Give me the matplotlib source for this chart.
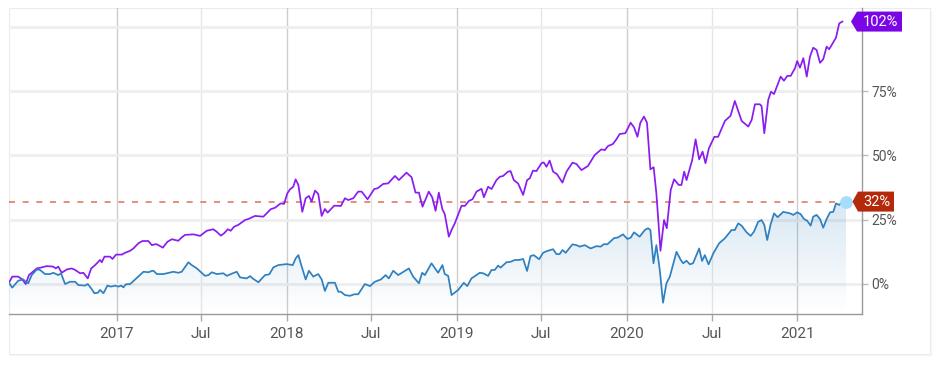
import matplotlib
matplotlib.use("Agg")
import matplotlib.pyplot as plt
import matplotlib.dates as mdates
import matplotlib.ticker as mticker
import numpy as np
from datetime import datetime, timedelta
from matplotlib.patches import Polygon, Rectangle, PathPatch
from matplotlib.transforms import IdentityTransform
from matplotlib.colors import to_rgb

plt.rcParams['font.family'] = ['Roboto', 'DejaVu Sans']

# ---------------- data (dates as decimal years, values in %) ----------------
purple_t = [
    2016.368, 2016.387, 2016.422, 2016.446, 2016.466, 2016.485, 2016.531, 2016.560, 2016.589, 2016.628,
    2016.642, 2016.657, 2016.677, 2016.707, 2016.736, 2016.756, 2016.785, 2016.804, 2016.830, 2016.850,
    2016.873, 2016.902, 2016.912, 2016.928, 2016.961, 2016.975, 2016.996,
    2017.030, 2017.049, 2017.079, 2017.098, 2017.127, 2017.151, 2017.186, 2017.206, 2017.231, 2017.245,
    2017.271, 2017.298, 2017.324, 2017.362, 2017.382, 2017.402, 2017.451, 2017.490, 2017.529, 2017.568,
    2017.588, 2017.612, 2017.631, 2017.653, 2017.670, 2017.690, 2017.715, 2017.754, 2017.774, 2017.813,
    2017.862, 2017.905, 2017.931, 2017.964, 2017.984,
    2018.003, 2018.019, 2018.038, 2018.052, 2018.068, 2018.091, 2018.111, 2018.130, 2018.146, 2018.166,
    2018.185, 2018.205, 2018.224, 2018.240, 2018.279, 2018.318, 2018.342, 2018.361, 2018.391, 2018.420,
    2018.440, 2018.475, 2018.514, 2018.534, 2018.567, 2018.596, 2018.636, 2018.659, 2018.704, 2018.734,
    2018.757, 2018.777, 2018.798, 2018.835, 2018.855, 2018.875, 2018.894, 2018.915, 2018.929, 2018.953,
    2018.969, 2018.988,
    2019.028, 2019.047, 2019.072, 2019.092, 2019.116, 2019.145, 2019.159, 2019.184, 2019.204, 2019.233,
    2019.253, 2019.272, 2019.301, 2019.316, 2019.335, 2019.360, 2019.390, 2019.413, 2019.429, 2019.448,
    2019.468, 2019.498, 2019.511, 2019.527, 2019.546, 2019.566, 2019.589, 2019.621, 2019.645, 2019.680,
    2019.703, 2019.733, 2019.771, 2019.811, 2019.850, 2019.870, 2019.889, 2019.918, 2019.938, 2019.958,
    2019.991,
    2020.022, 2020.042, 2020.062, 2020.079, 2020.100, 2020.118, 2020.138, 2020.157, 2020.173, 2020.197,
    2020.218, 2020.234, 2020.257, 2020.277, 2020.304, 2020.320, 2020.336, 2020.350, 2020.383, 2020.403,
    2020.424, 2020.444, 2020.461, 2020.481, 2020.513, 2020.535, 2020.575, 2020.608, 2020.633, 2020.673,
    2020.712, 2020.732, 2020.751, 2020.780, 2020.790, 2020.806, 2020.829, 2020.845, 2020.863, 2020.902,
    2020.921, 2020.941, 2020.961, 2020.986, 2020.999,
    2021.015, 2021.035, 2021.055, 2021.074, 2021.093, 2021.113, 2021.133, 2021.152, 2021.172, 2021.187,
    2021.227, 2021.246, 2021.265,
]
purple_v = [
    0.3, 2.7, 2.7, 1.6, -0.2, 3.3, 5.9, 6.3, 6.8, 6.6,
    5.9, 6.6, 4.2, 5.5, 5.9, 5.3, 4.0, 4.2, 2.0, 5.9,
    7.2, 9.2, 8.3, 10.5, 10.5, 9.6, 11.3,
    11.3, 12.0, 12.8, 13.7, 15.7, 16.6, 16.6, 15.0, 15.4, 15.0,
    14.0, 16.3, 17.3, 16.7, 18.0, 19.0, 19.2, 18.6, 20.6, 21.2,
    20.2, 18.7, 19.6, 21.2, 20.6, 22.2, 22.9, 24.8, 25.2, 26.4,
    26.1, 29.0, 29.6, 31.3, 31.1,
    35.2, 36.8, 37.8, 40.7, 38.5, 28.0, 33.3, 34.2, 32.0, 36.3,
    35.0, 26.4, 29.1, 27.7, 30.4, 30.3, 33.3, 32.6, 33.3, 35.9,
    35.9, 32.9, 36.9, 37.2, 38.9, 39.1, 42.0, 40.4, 43.3, 41.5,
    35.5, 35.5, 30.0, 35.9, 33.7, 28.4, 35.5, 29.0, 27.1, 18.3,
    20.9, 23.5,
    30.4, 30.3, 32.3, 32.9, 35.9, 37.0, 33.7, 37.8, 36.9, 40.4,
    41.7, 42.0, 43.7, 43.9, 40.4, 39.1, 34.6, 40.4, 41.1, 44.1,
    43.9, 47.0, 47.3, 45.6, 48.0, 43.7, 42.7, 39.4, 43.7, 47.2,
    46.7, 44.3, 45.9, 50.2, 52.4, 52.1, 53.7, 54.5, 56.3, 58.4,
    58.7,
    62.8, 61.0, 57.3, 62.8, 65.2, 62.8, 44.6, 45.4, 35.2, 12.8,
    24.8, 21.6, 36.5, 40.7, 38.5, 38.5, 43.7, 40.4, 48.2, 56.3,
    48.5, 51.5, 47.0, 52.8, 57.3, 57.3, 63.5, 65.5, 71.3, 63.5,
    61.3, 63.9, 70.0, 70.0, 69.3, 58.7, 71.7, 74.9, 74.0, 80.8,
    79.2, 81.1, 81.1, 84.1, 86.9,
    84.3, 88.0, 80.8, 88.6, 92.1, 91.2, 86.2, 87.6, 92.5, 91.5,
    96.0, 101.6, 102.3,
]

blue_t = [
    2016.368, 2016.387, 2016.422, 2016.452, 2016.466, 2016.481, 2016.501, 2016.531, 2016.550, 2016.579,
    2016.609, 2016.628, 2016.657, 2016.673, 2016.697, 2016.726, 2016.756, 2016.775, 2016.814, 2016.830,
    2016.850, 2016.869, 2016.889, 2016.902, 2016.922, 2016.945, 2016.967, 2016.991,
    2017.010, 2017.026, 2017.039, 2017.053, 2017.079, 2017.108, 2017.157, 2017.186, 2017.206, 2017.216,
    2017.236, 2017.274, 2017.333, 2017.362, 2017.382, 2017.421, 2017.441, 2017.471, 2017.519, 2017.539,
    2017.559, 2017.588, 2017.627, 2017.647, 2017.682, 2017.706, 2017.725, 2017.764, 2017.784, 2017.803,
    2017.833, 2017.872, 2017.897, 2017.921, 2017.950, 2017.999,
    2018.035, 2018.052, 2018.068, 2018.091, 2018.111, 2018.130, 2018.156, 2018.185, 2018.205, 2018.224,
    2018.244, 2018.283, 2018.303, 2018.318, 2018.342, 2018.371, 2018.397, 2018.420, 2018.459, 2018.489,
    2018.518, 2018.554, 2018.581, 2018.600, 2018.626, 2018.655, 2018.718, 2018.743, 2018.777, 2018.796,
    2018.812, 2018.851, 2018.890, 2018.915, 2018.929, 2018.949, 2018.969,
    2019.008, 2019.041, 2019.061, 2019.086, 2019.135, 2019.155, 2019.184, 2019.204, 2019.223, 2019.243,
    2019.257, 2019.292, 2019.316, 2019.341, 2019.366, 2019.390, 2019.413, 2019.433, 2019.452, 2019.484,
    2019.507, 2019.531, 2019.566, 2019.586, 2019.605, 2019.621, 2019.640, 2019.680, 2019.703, 2019.723,
    2019.752, 2019.787, 2019.821, 2019.846, 2019.865, 2019.885, 2019.924, 2019.948, 2019.977,
    2020.003, 2020.022, 2020.042, 2020.075, 2020.105, 2020.124, 2020.138, 2020.156, 2020.173, 2020.193,
    2020.212, 2020.232, 2020.252, 2020.291, 2020.316, 2020.330, 2020.350, 2020.369, 2020.388, 2020.424,
    2020.441, 2020.457, 2020.479, 2020.510, 2020.541, 2020.575, 2020.614, 2020.633, 2020.653, 2020.673,
    2020.702, 2020.726, 2020.745, 2020.770, 2020.790, 2020.806, 2020.823, 2020.843, 2020.863, 2020.884,
    2020.917, 2020.957, 2020.976, 2020.999,
    2021.019, 2021.039, 2021.058, 2021.078, 2021.093, 2021.113, 2021.133, 2021.152, 2021.172, 2021.192,
    2021.211, 2021.227, 2021.246, 2021.266, 2021.286,
]
blue_v = [
    0.3, -1.6, 1.1, 1.6, 0.7, 0.1, 3.3, 5.5, 5.3, 3.7,
    3.7, 4.2, 3.3, 4.0, -0.2, 0.7, 0.7, -0.6, -0.8, -0.2,
    -1.9, -3.8, -3.6, -2.5, -3.8, -0.8, -1.2, -0.8,
    -1.2, -0.8, -1.5, -0.3, -0.2, 1.6, 4.6, 4.4, 4.9, 5.0,
    3.7, 3.7, 4.6, 4.2, 4.6, 8.3, 7.2, 5.9, 3.0, 3.3,
    4.4, 3.7, 4.0, 3.0, 4.0, 4.6, 2.4, 2.0, 2.9, 1.8,
    0.5, 3.3, 3.6, 6.3, 7.2, 7.6,
    7.2, 9.8, 11.1, 5.9, 1.6, 5.0, 2.7, 3.7, 1.6, -2.9,
    0.3, 0.3, -3.2, -3.2, -4.5, -4.8, -4.2, -4.2, -0.2, -1.0,
    0.7, 1.6, 3.3, 2.0, 5.0, 3.3, 5.9, 2.7, 0.1, 4.2,
    3.3, 7.9, 4.2, 7.2, 3.7, 3.0, -4.5,
    -2.5, 0.3, -1.0, 2.0, 4.2, 4.0, 3.0, 5.3, 5.3, 7.0,
    6.2, 8.3, 8.5, 9.2, 9.2, 9.6, 4.9, 10.7, 11.1, 9.5,
    12.0, 12.7, 13.4, 11.5, 11.5, 13.1, 12.0, 15.3, 15.0, 14.4,
    15.0, 13.7, 14.6, 14.4, 15.4, 15.3, 17.7, 18.0, 19.2,
    17.4, 17.9, 20.0, 18.3, 20.9, 21.6, 20.9, 7.9, 15.0, 5.3,
    -7.5, 0.1, 2.7, 12.4, 9.2, 7.9, 8.9, 7.5, 7.9, 13.7,
    8.8, 11.1, 7.5, 12.2, 15.7, 17.7, 20.9, 20.9, 23.5, 22.6,
    20.0, 18.6, 20.2, 24.1, 24.8, 22.9, 17.0, 23.1, 27.4, 25.9,
    28.0, 27.4, 26.8, 27.8,
    27.1, 25.2, 24.5, 22.6, 26.1, 26.8, 25.2, 21.8, 25.2, 27.8,
    28.0, 31.3, 30.7, 32.0, 32.0,
]

ref_level = 32.0
purple_label = "102%"
blue_label = "32%"
y_ticks = [0, 25, 50, 75, 100]
y_tick_labels = ["0%", "25%", "50%", "75%", ""]
year_ticks = [2017, 2018, 2019, 2020, 2021]
mid_year_ticks = [2017, 2018, 2019, 2020]   # July of these years, labelled "Jul"
x_range = (2016.368, 2021.380)
y_range = (-11.9, 107.6)

assert len(purple_t) == len(purple_v)
assert len(blue_t) == len(blue_v)


def to_date(t):
    y = int(np.floor(t))
    start = datetime(y, 1, 1)
    days = (datetime(y + 1, 1, 1) - start).days
    return start + timedelta(days=(t - y) * days)


p_dates = [to_date(t) for t in purple_t]
b_dates = [to_date(t) for t in blue_t]

# ---------------- figure ----------------
W, H = 936, 366
fig = plt.figure(figsize=(W / 100, H / 100), dpi=100)
fig.patch.set_facecolor('white')

# card with a very soft shadow (pixel coordinates, origin bottom-left)
cx0, cx1 = 9, 930
cy0, cy1 = H - 354, H - 8
for off, a in [(3, 0.012), (2, 0.018), (1, 0.025)]:
    sh = Rectangle((cx0 + 1, cy0 - off), (cx1 - cx0) + off - 1, (cy1 - cy0),
                   facecolor='black', edgecolor='none', alpha=a,
                   transform=IdentityTransform(), zorder=-3)
    fig.add_artist(sh)
card = Rectangle((cx0, cy0), cx1 - cx0, cy1 - cy0, facecolor='white', edgecolor='#ececec',
                 lw=0.8, transform=IdentityTransform(), zorder=-2)
fig.add_artist(card)

ax = fig.add_axes([9 / W, 1 - 314 / H, 853 / W, 306 / H])
ax.set_facecolor('none')

xmin, xmax = to_date(x_range[0]), to_date(x_range[1])

# gradient fill under blue series
fill = ax.fill_between(b_dates, blue_v, y_range[0], facecolor='none', edgecolor='none')
clip = PathPatch(fill.get_paths()[0], transform=ax.transData, facecolor='none', edgecolor='none')
ax.add_patch(clip)
rgb = to_rgb('#3182bd')
grad = np.zeros((256, 1, 4))
grad[..., 0], grad[..., 1], grad[..., 2] = rgb
grad[:, 0, 3] = np.linspace(0.0, 0.19, 256)
im = ax.imshow(grad, extent=[mdates.date2num(xmin), mdates.date2num(xmax), y_range[0], max(blue_v)],
               origin='lower', aspect='auto', zorder=1, interpolation='bilinear')
im.set_clip_path(clip)

# reference dashed line
ax.axhline(ref_level, color='#e07b68', lw=1.2, ls=(0, (3.6, 4.6)), zorder=2)

# series lines
ax.plot(p_dates, purple_v, color='#8a1cf0', lw=1.25, zorder=3, solid_joinstyle='round')
ax.plot(b_dates, blue_v, color='#2f80c0', lw=1.25, zorder=4, solid_joinstyle='round')
ax.plot([b_dates[-1]], [blue_v[-1]], 'o', ms=9.2, color='#a6ddfb', mec='none', zorder=5, clip_on=False)

ax.set_xlim(xmin, xmax)
ax.set_ylim(*y_range)

# x axis: years (major) and July (minor)
major_dates = [datetime(y, 1, 1) for y in year_ticks]
minor_dates = [datetime(y, 7, 1) for y in mid_year_ticks]
ax.xaxis.set_major_locator(mticker.FixedLocator(mdates.date2num(major_dates)))
ax.xaxis.set_major_formatter(mdates.DateFormatter('%Y'))
ax.xaxis.set_minor_locator(mticker.FixedLocator(mdates.date2num(minor_dates)))
ax.xaxis.set_minor_formatter(mdates.DateFormatter('%b'))
ax.tick_params(axis='x', which='both', length=5, width=1, color='#aaaaaa',
               labelcolor='#555555', labelsize=11, pad=4)
ax.grid(axis='x', which='major', color='#cdcdcd', lw=1)
ax.grid(axis='x', which='minor', color='#e6e6e6', lw=1)

# y axis on the right
ax.yaxis.tick_right()
ax.set_yticks(y_ticks)
ax.set_yticklabels(y_tick_labels)
ax.tick_params(axis='y', length=4, width=1, color='#bbbbbb', labelcolor='#555555',
               labelsize=10, pad=3)
ax.grid(axis='y', which='major', color='#eeeeee', lw=2)
ax.set_axisbelow(True)

for s in ['top', 'left']:
    ax.spines[s].set_visible(False)
for s in ['right', 'bottom']:
    ax.spines[s].set_color('#9a9a9a')
    ax.spines[s].set_linewidth(1)

# value badges on the right edge
xr = ax.transAxes.transform((1, 0))[0]


def badge(val, text, color, tip, left, right):
    yc = ax.transData.transform((mdates.date2num(xmin), val))[1]
    h = 10.0
    verts = [(xr + tip, yc), (xr + left, yc + h), (xr + right, yc + h),
             (xr + right, yc - h), (xr + left, yc - h)]
    fig.add_artist(Polygon(verts, closed=True, facecolor=color, edgecolor='none',
                           transform=IdentityTransform(), zorder=10))
    fig.text(xr + (left + right) / 2 + 1, yc, text, transform=IdentityTransform(), color='white',
             ha='center', va='center', fontsize=10.5, zorder=11)


badge(purple_v[-1], purple_label, '#7a06e6', -11, -5, 40)
badge(ref_level, blue_label, '#b5290b', -9.5, -4, 32)

fig.savefig('out.png', dpi=100, facecolor='white')
